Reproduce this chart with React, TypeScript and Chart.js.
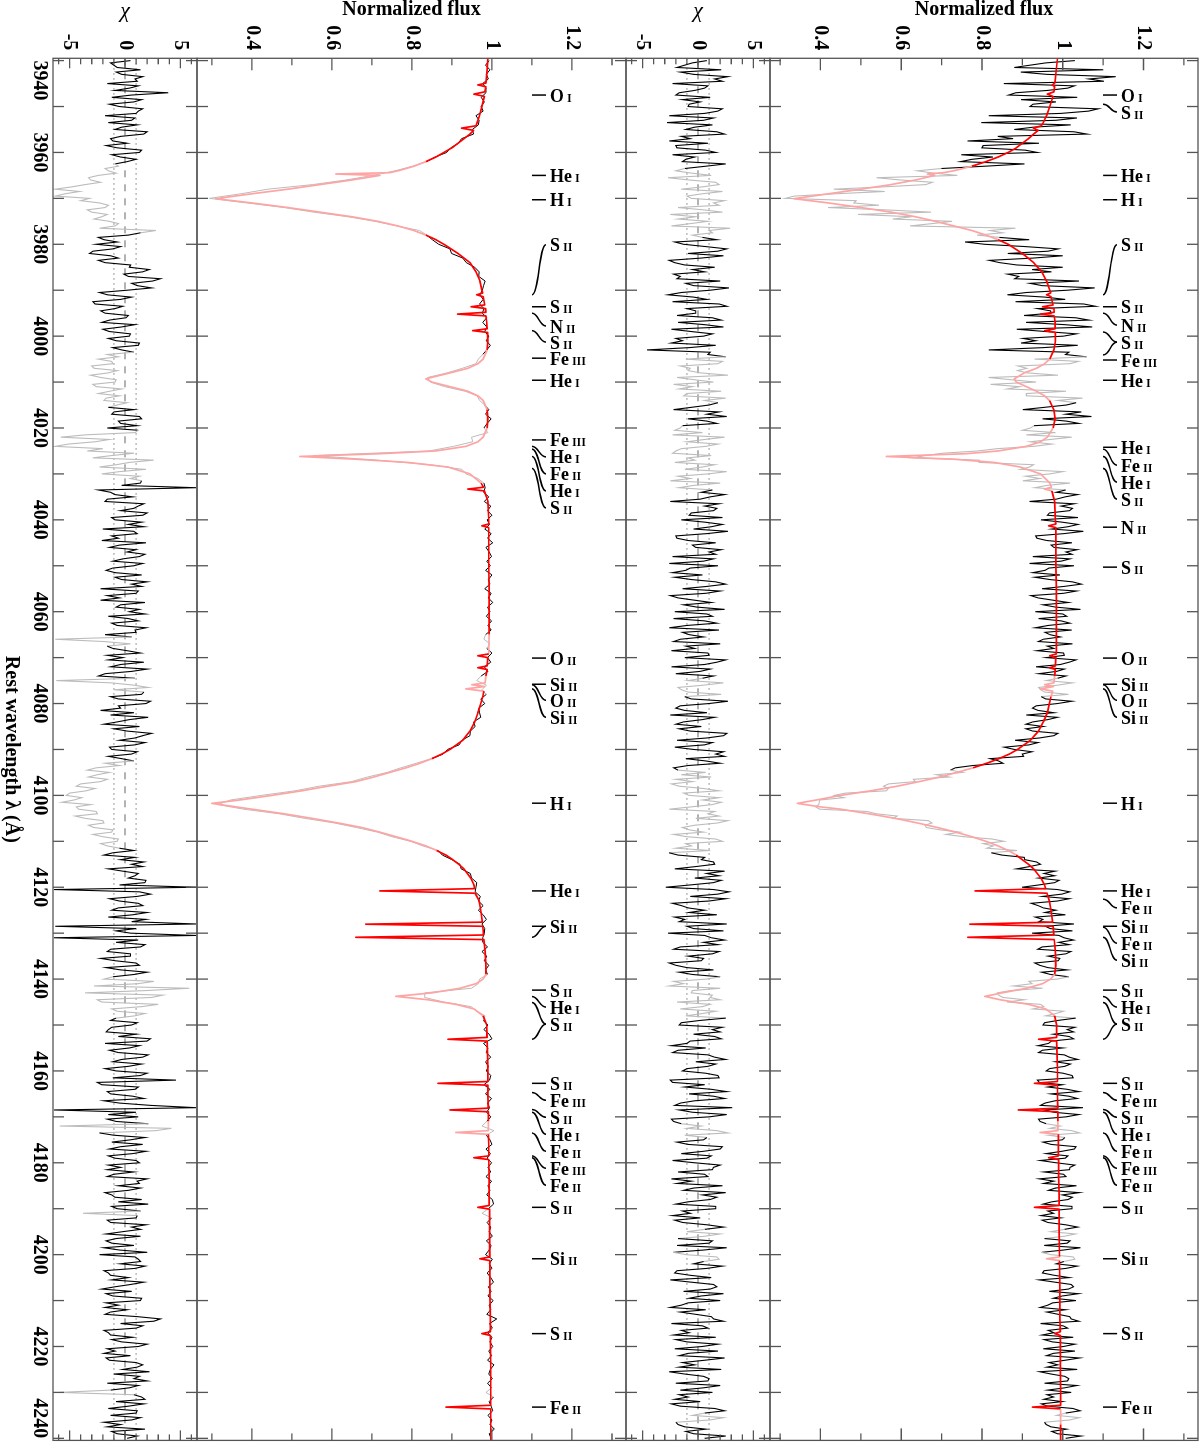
import React, { useEffect, useRef } from 'react';
import { Chart, registerables } from 'chart.js';
Chart.register(...registerables);

// ---------- data ----------
const WAVE_START = 3940;
const FINE_STEP = 0.5;   // sampling of OBS_TOP, CHI_TOP, CHI_BOT
const COARSE_STEP = 1;   // sampling of OBS_BOT

// observed spectrum, upper star (right-hand flux panel)
const OBS_TOP = [
  1.030, .958, .919, .880, 1.100, .896, .961, 1.131, 1.065, 1.102, .854, 1.029, 1.012, .962, .884, .866, 1.036, .897, .983, .926,
  .919, 1.088, 1.064, .995, .817, 1.035, .983, .798, 1.020, .927, .880, 1.028, 1.060, .839, .877, .764, .941, .803, .800, .907,
  .937, .749, .827, .775, .747, .905, .807, .699, .640, .680, .739, .539, .599, .677, .661, .555, .433, .559, .438, .335,
  .313, .488, .483, .545, .419, .560, .674, .493, .626, .579, .726, .676, .622, .883, .820, .851, .788, .843, .917, .758,
  .807, .907, .989, .964, .864, 1.000, .927, .818, .844, .886, 1.000, .924, .972, .864, .891, .881, 1.040, .919, .949, 1.079,
  1.012, .910, .863, .956, 1.006, .883, 1.052, 1.081, .938, .970, .971, .904, 1.032, 1.065, .909, 1.005, 1.073, .886, .958, 1.034,
  1.002, .902, .933, .897, 1.037, .952, .817, 1.015, 1.007, 1.059, .930, 1.039, 1.018, .889, .911, .888, .912, .988, .816, .873,
  .934, .821, .893, .863, 1.008, .910, .910, 1.049, .988, 1.033, 1.009, .955, .901, 1.046, 1.008, 1.071, .950, 1.009, 1.040, .929,
  .920, .900, .982, .910, 1.022, .969, .920, .973, .928, .838, .790, .702, .660, .628, .793, .793, .928, .918, .895, 1.000,
  .968, .908, .943, .901, 1.018, .961, .931, 1.007, .984, 1.037, 1.006, .984, .918, 1.028, .996, 1.024, 1.017, .967, .962, 1.038,
  .946, .998, 1.038, 1.013, .973, 1.051, 1.003, .933, .936, .960, 1.023, .971, .978, 1.036, 1.008, 1.023, .926, 1.018, .996, .918,
  1.028, .966, .956, .926, .993, .931, .968, 1.024, 1.046, 1.003, .949, 1.034, 1.002, .921, .939, .976, 1.014, .951, .982, 1.044,
  .932, 1.000, 1.010, .940, .996, 1.018, .964, .932, 1.022, .956, .968, .994, .952, .940, 1.024, .962, .978, .936, 1.002, 1.004,
  .959, 1.033, 1.016, .994, .934, 1.004, .985, .941, 1.008, .987, .960, 1.024, .987, .940, .945, .955, 1.014, .947, .958, 1.023,
  .987, .934, .925, .939, .978, .910, .987, .963, .926, .909, .952, .909, .926, .988, .978, .942, .882, .939, .917, .855,
  .880, .924, .900, .903, .820, .841, .852, .777, .734, .722, .752, .687, .719, .630, .635, .569, .556, .568, .563, .462,
  .434, .458, .398, .397, .396, .388, .398, .515, .538, .590, .581, .667, .676, .659, .662, .696, .745, .711, .755, .825,
  .854, .803, .828, .812, .887, .823, .849, .905, .906, .935, .945, .918, .886, .981, .954, .980, .940, .991, .980, .941,
  .899, .987, 1.017, .998, .950, 1.016, .987, .922, .939, .952, .983, .956, 1.007, .932, .951, .941, 1.028, .957, .969, 1.024,
  .924, .991, 1.003, 1.027, .990, 1.016, .949, .938, 1.020, 1.008, .964, .993, .989, .931, .943, .963, 1.011, .948, .970, 1.015,
  .986, .916, .924, .878, .950, .870, .838, .841, .852, .905, .862, .945, .953, .926, 1.002, .983, .958, 1.032, .988, .955,
  .951, 1.030, 1.011, 1.027, .977, 1.016, 1.027, .972, .965, .939, 1.000, .950, .940, 1.004, 1.016, 1.037, .982, 1.019, 1.005, .967,
  .959, 1.001, 1.023, 1.026, .937, .942, .999, .963, 1.011, 1.040, .971, 1.015, 1.036, .981, .956, .945, 1.050, .954, .978, 1.040,
  1.008, .940, .944, .959, .994, .968, 1.022, 1.042, .965, 1.005, .999, .951, .971, 1.033, 1.029, .998, .959, 1.013, 1.006, .944,
  .984, 1.030, 1.018, 1.017, .954, 1.002, 1.008, .942, .978, .953, 1.034, .982, .965, 1.041, .999, 1.024, 1.013, .973, .951, 1.023,
  1.023, .963, .977, .946, .995, .949, .963, 1.007, 1.037, 1.004, .971, 1.031, 1.004, .955, 1.018, 1.011, .954, 1.044, 1.002, .948,
  .970, 1.026, 1.030, 1.003, .984, 1.036, 1.008, .954, .950, .979, 1.016, .942, .981, 1.021, 1.027, 1.014, .967, 1.039, .999, .977,
  1.033, .975, .963, .944, 1.007, .961, .989, 1.017, 1.021, 1.040, .945, 1.001, 1.012, .964, .978, .949, 1.026, .954, .974, 1.030,
  1.002, .952, 1.030, .977, .960, 1.042, 1.006, .966, .988, .961, 1.036, .943, .971, 1.005, 1.015, 1.012, .955, 1.035, 1.005, .963,
  1.021, .961, .977, .953, .999, .947, .963, 1.025, 1.043, 1.007, .985, 1.041, 1.017, .955, .959, .971, 1.009, .973, .987, 1.045,
  1.007,
];

// residuals, upper star
const CHI_TOP = [
  0.8, -0.5, -1.2, -1.9, 2.1, -1.6, -0.4, 2.7, 1.5, 2.2, -2.3, 0.9, 0.6, -0.3, -1.7, -2.0, 1.1, -1.4, 0.2, -0.8,
  -0.9, 2.2, 1.8, 0.6, -2.6, 1.4, 0.5, -2.8, 1.3, -0.3, -1.1, 1.7, 2.4, -1.5, -0.7, -2.6, 0.9, -2.0, -1.9, 0.7,
  1.6, -2.3, -0.3, -1.1, -1.4, 2.5, 0.7, -1.2, -2.0, -0.6, 1.2, -2.7, -0.8, 1.6, 1.9, 0.4, -1.5, 2.2, 0.4, -1.0,
  -0.6, 2.4, 1.4, 1.9, -1.8, 0.5, 2.2, -2.5, -0.2, -1.8, 0.9, -0.7, -2.4, 2.9, 1.0, 1.3, -0.5, 0.4, 1.7, -2.1,
  -1.3, 0.7, 2.6, 1.8, -0.9, 2.3, 0.3, -2.6, -2.1, -1.2, 1.5, -0.5, 0.6, -2.2, -1.6, -1.9, 2.0, -1.1, -0.4, 2.8,
  1.1, -1.5, -2.7, -0.4, 0.8, -2.3, 1.9, 2.6, -1.0, -0.2, -0.2, -1.9, 1.3, 2.1, -1.8, 0.6, 2.3, -2.4, -0.6, 1.3,
  0.5, -2.0, -1.4, -2.4, 1.6, -0.8, -4.6, 1.1, 0.9, 2.5, -1.1, 2.2, 1.8, -1.6, -0.7, -0.9, 0.2, 2.7, -1.9, -0.3,
  1.4, -2.2, -0.5, -1.7, 2.1, -1.0, -1.3, 2.5, 0.6, 1.8, 1.0, -0.6, -2.2, 1.9, 0.8, 2.6, -0.9, 0.8, 1.7, -1.4,
  -1.6, -2.1, 0.4, -2.3, 2.4, 0.6, -1.0, 1.8, 0.7, -1.5, -2.0, -2.3, 1.2, -0.9, -0.3, -2.1, 1.5, 0.4, -1.2, 2.6,
  0.9, -1.8, -0.7, -2.5, 2.0, -0.4, -1.7, 1.3, 0.3, 2.4, 1.1, 0.2, -2.5, 1.9, 0.6, 1.7, 1.4, -0.6, -0.8, 2.2,
  -1.5, 0.6, 2.2, 1.2, -0.4, 2.7, 0.8, -2.0, -1.9, -0.9, 1.6, -0.5, -0.2, 2.1, 1.0, 1.6, -2.3, 1.4, 0.5, -2.6,
  1.8, -0.7, -1.1, -2.3, 0.4, -2.1, -0.6, 1.6, 2.5, 0.8, -1.4, 2.0, 0.7, -2.5, -1.8, -0.3, 1.2, -1.3, -0.1, 2.4,
  -2.1, 0.8, 1.3, -2.2, 0.6, 1.7, -1.0, -2.6, 1.9, -1.4, -0.8, 0.5, -1.6, -2.2, 2.0, -1.1, -0.3, -2.4, 0.9, 1.0,
  -1.2, 2.5, 1.7, 0.6, -2.4, 1.1, 0.2, -2.0, 1.4, 0.4, -0.9, 2.3, 0.5, -1.8, -1.5, -0.9, 2.1, -1.2, -0.6, 2.7,
  1.0, -1.6, -2.0, -1.2, 0.8, -2.5, 1.5, 0.4, -1.3, -2.0, 0.3, -1.7, -0.7, 2.6, 2.3, 0.8, -1.9, 1.3, 0.6, -2.1,
  -0.4, 2.3, 1.6, 2.4, -1.1, 0.7, 2.0, -0.9, -2.2, -1.8, 0.7, -1.5, 1.2, -2.0, -0.5, -2.4, -1.7, 0.5, 1.9, -1.3,
  -0.8, 1.9, 0.4, 2.1, 1.3, -0.6, -2.6, 1.5, 0.9, 1.9, -0.2, 2.7, 1.8, -0.3, -1.4, -0.8, 0.5, -2.2, -1.0, 1.6,
  2.2, -1.1, -0.6, -2.0, 1.1, -2.6, -1.8, 0.6, 0.3, 1.4, 1.5, -0.2, -2.1, 2.4, 0.8, 1.9, -0.3, 2.1, 1.4, -0.7,
  -2.9, 1.4, 2.8, 1.8, -0.7, 2.5, 1.0, -2.3, -1.5, -0.9, 0.6, -0.8, 1.7, -2.1, -1.2, -1.7, 2.6, -1.0, -0.4, 2.3,
  -2.7, 0.6, 1.2, 2.4, 0.5, 1.8, -1.6, -2.2, 1.9, 1.3, -0.9, 0.5, 0.3, -2.6, -2.0, -1.0, 1.4, -1.7, -0.5, 2.0,
  0.8, -2.2, -1.3, -2.6, 2.0, -0.5, -0.6, 1.3, 1.1, 2.0, -1.9, 1.1, 0.4, -1.6, 1.6, 0.4, -1.1, 2.5, 0.2, -1.5,
  -1.7, 2.2, 1.3, 2.0, -0.4, 1.5, 2.1, -0.7, -1.0, -2.4, 0.7, -1.8, -2.3, 0.9, 1.5, 2.5, -0.2, 1.6, 0.9, -1.0,
  -1.4, 0.7, 1.8, 1.9, -2.5, -2.3, 0.6, -1.2, 1.2, 2.6, -0.8, 1.4, 2.4, -0.3, -1.6, -2.1, 3.1, -1.7, -0.5, 2.6,
  1.0, -2.4, -2.2, -1.5, 0.3, -1.0, 1.7, 2.7, -1.2, 0.8, 0.5, -1.9, -0.9, 2.2, 2.0, 0.5, -1.5, 1.2, 0.8, -2.3,
  -0.3, 2.0, 1.4, 1.3, -1.8, 0.6, 0.9, -2.4, -0.6, -1.9, 2.2, -0.4, -1.3, 2.5, 0.4, 1.7, 1.1, -0.9, -2.0, 1.6,
  1.6, -1.4, -0.7, -2.3, 0.2, -2.1, -1.4, 0.8, 2.3, 0.6, -1.0, 2.0, 0.6, -1.8, 1.3, 1.0, -1.9, 2.6, 0.5, -2.2,
  -1.1, 1.7, 1.9, 0.5, -0.4, 2.2, 0.8, -1.9, -2.1, -0.7, 1.2, -2.5, -0.6, 1.4, 1.7, 1.1, -1.3, 2.3, 0.3, -0.8,
  2.0, -0.9, -1.5, -2.5, 0.7, -1.6, -0.2, 1.2, 1.4, 2.3, -2.4, 0.4, 0.9, -1.5, -0.8, -2.2, 1.6, -2.0, -1.0, 1.8,
  0.4, -2.1, 1.8, -0.9, -1.7, 2.4, 0.6, -1.4, -0.3, -1.7, 2.1, -2.6, -1.2, 0.5, 1.0, 0.9, -2.0, 2.0, 0.5, -1.6,
  1.3, -1.7, -0.9, -2.1, 0.2, -2.4, -1.6, 1.5, 2.4, 0.6, -0.5, 2.3, 1.1, -2.0, -1.8, -1.2, 0.7, -1.1, -0.4, 2.5,
  0.6,
];

// observed spectrum, lower star (left-hand flux panel)
const OBS_BOT = [
  .993, .984, .995, .986, .991, .977, .985, .985, .973, .981,
  .973, .978, .960, .968, .966, .951, .954, .924, .916, .897,
  .887, .858, .836, .802, .758, .703, .635, .552, .440, .373,
  .294, .389, .481, .555, .640, .708, .761, .819, .837, .851,
  .867, .895, .899, .927, .936, .957, .968, .967, .983, .979,
  .976, .970, .978, .969, .980, .976, .987, .977, .987, .982,
  .992, .986, .996, .987, .977, .966, .960, .926, .888, .839,
  .846, .882, .933, .963, .969, .982, .992, .984, .998, .988,
  .980, .990, .949, .952, .904, .843, .554, .713, .846, .925,
  .935, .965, .980, .983, .979, .992, .981, .997, .989, 1.000,
  .988, .994, .982, .998, .989, 1.002, .985, .993, .999, .987,
  .996, .984, 1.000, .991, .995, .982, .998, .991, 1.002, .989,
  .995, .986, .999, .990, .998, .984, .980, .995, .987, 1.000,
  .989, .997, .981, .990, .973, .962, .986, .975, .986, .972,
  .982, .967, .969, .972, .954, .958, .946, .945, .925, .918,
  .889, .878, .849, .811, .772, .738, .689, .649, .568, .508,
  .424, .347, .315, .379, .468, .532, .606, .661, .714, .750,
  .797, .827, .866, .876, .900, .920, .923, .946, .949, .962,
  .960, .958, .971, .966, .978, .966, .978, .986, .975, .982,
  .981, .977, .977, .989, .975, .987, .981, .992, .984, .989,
  .969, .966, .949, .832, .832, .880, .948, .962, .983, .978,
  .990, .980, .993, 1.000, .979, .990, .986, .997, .984, .991,
  .986, .997, .994, .980, .995, .984, .999, .989, .994, .987,
  .997, .987, .975, 1.005, .986, .995, 1.000, .985, .996, .988,
  .999, .990, .997, .985, .999, .990, .995, .987, 1.001, 1.004,
  .991, .975, .999, .988, .997, .993, 1.001, .986, .998, .993,
  .984, 1.001, .993, 1.000, .988, .997, 1.004, .991, .998, .990,
  1.003, .993, .997, .987, 1.012, .994, 1.001, .989, 1.000, .995,
  1.002, .992, .999, .989, 1.005, .996, .992, 1.001, .989, .999,
  .985, 1.004, .993, .998, 1.002, .990, 1.000, .995, 1.006, .993,
  .998,
];

// residuals, lower star
const CHI_BOT = [
  0.5, -1.3, -1.0, -0.7, 1.4, -0.8, -0.3, 1.6, 0.9, 1.1, -1.6, 1.2, 0.4, -0.9, 3.9, 0.6, -1.2, 1.5, 0.8, -1.4,
  -0.5, 1.6, 1.2, 1.0, -1.8, 0.9, 0.6, -1.5, 1.1, -0.3, -0.9, 2.0, 1.7, -0.4, -1.3, -1.1, 0.2, -1.7, -0.7, 1.5,
  1.3, -1.2, -0.4, 1.0, 0.2, -0.9, -0.6, -1.8, -1.5, -0.8, -2.4, -3.3, -3.1, -2.2, -3.6, -4.8, -6.3, -4.1, -5.4, -6.3,
  -3.2, -4.0, -2.3, -1.5, -1.8, -3.4, -3.0, -1.6, -2.1, -2.8, -1.4, -0.6, -0.9, -2.3, 2.8, 1.4, 0.3, -2.4, -1.9, -0.7,
  -2.6, -0.4, -1.1, -2.9, -3.2, -1.3, -0.6, -2.4, -1.8, 0.5, 0.4, 2.2, 1.6, -0.1, 0.3, 3.2, 2.5, 0.6, 1.1, 2.4,
  0.2, -2.3, -1.6, 0.6, -0.4, -2.9, -2.7, -0.2, -0.9, -2.2, -1.8, 0.3, 0.1, -1.4, -2.1, 0.9, -0.3, -2.0, -1.4, 0.5,
  0.4, -1.5, -0.8, 1.3, 1.2, -1.1, -0.3, 0.8, -1.6, -0.6, -2.4, -1.2, -1.1, -3.0, -2.8, -0.7, -1.5, -3.1, -2.2, -0.8,
  -0.9, -2.9, -2.6, -0.3, -1.4, -2.4, -0.5, -1.7, -1.9, 0.2, -0.7, -1.5, 0.8, -1.0, -1.2, 1.3, 1.5, -0.6, -0.4, 1.1,
  -1.6, 1.2, 0.9, -3.6, -5.8, -1.4, -2.7, -5.1, -6.3, -2.0, -3.4, 0.8, -1.2, -2.9, 2.6, 0.4, -0.8, -2.3, 1.9, -0.5,
  -2.1, 1.3, 0.5, 1.5, 1.4, -0.3, 6.4, -2.4, -1.3, -0.9, 0.7, -1.6, -1.8, 1.7, 1.2, 0.8, -0.4, 2.0, 1.6, -1.2,
  -0.9, 1.5, 0.3, 1.7, -2.0, 0.8, 1.1, -1.2, -0.6, -2.1, 1.9, -0.5, -1.4, 1.0, 0.2, 1.8, 1.3, -0.2, -1.1, 1.6,
  0.8, -1.1, -1.7, -0.9, 1.5, -0.9, -0.3, 2.0, 0.6, 1.5, -2.2, 1.2, 1.0, -1.6, -0.5, -2.2, 1.8, -0.4, -0.8, 1.3,
  0.4, 1.8, -1.5, 0.3, 1.2, -1.2, -0.7, 1.9, 0.9, 1.0, -1.8, 0.6, -6.3, -1.9, 0.5, -1.6, -1.1, 0.2, 1.4, -1.6,
  -0.2, -1.5, 1.7, -0.4, -1.3, 2.0, 0.6, -1.8, -2.4, 0.9, -6.2, -1.2, 0.8, 2.1, -1.0, 1.7, 1.5, -1.3, -0.6, 2.3,
  1.9, -0.6, -0.4, -2.2, 0.8, -1.3, 2.1, 0.4, -0.7, -1.9, 1.3, -1.0, 0.2, 2.4, 1.6, 0.9, -0.5, 1.8, 0.9, -1.4,
  -1.2, 1.1, 0.6, -1.5, -0.3, 0.8, -1.8, -0.5, -2.6, -3.4, -1.4, -2.5, -3.3, -1.6, -2.2, -4.0, -4.4, -2.7, -3.5, -5.0,
  -5.3, -3.9, -4.6, -5.7, -3.1, -4.4, -4.2, -2.6, -2.5, -4.5, -3.6, -2.0, -1.9, -3.3, -2.8, -1.1, -1.2, -2.9, -2.0, -0.6,
  -0.7, -2.2, -1.6, -0.5, 0.8, -1.1, -1.9, 0.9, -0.4, 1.7, 0.6, 1.6, -1.5, -0.2, 1.2, 0.9, 0.3, 1.9, 1.8, -0.5,
  6.4, -6.4, 1.3, 2.3, 1.1, -1.4, -0.5, 1.2, 1.6, -0.6, -1.2, 2.0, 0.7, -1.5, 1.9, 0.6, 6.4, -6.3, 1.0, -0.8,
  0.5, 6.4, -6.4, 1.2, -0.8, 1.8, 1.4, -1.3, -1.6, 0.5, 0.5, -2.2, -0.9, 1.0, 1.3, -1.7, -0.4, 2.0, 0.8, -1.1,
  -1.9, 2.6, 1.2, -2.8, 5.8, 1.9, -3.6, 3.4, 2.4, -2.5, -2.1, 3.0, 1.5, -1.2, -0.7, 1.8, 0.9, -0.8, -1.3, 1.1,
  0.6, -1.2, -1.5, -1.7, 1.0, -0.6, 2.3, 2.0, -1.8, 1.3, 0.4, -1.4, -0.6, 2.1, 1.6, -0.3, -1.1, 1.5, 0.3, -1.8,
  -0.8, 2.0, 1.4, -1.1, 4.6, -2.5, -2.1, 1.2, 0.9, -1.6, -1.3, 0.7, 1.7, -1.9, -0.5, 2.3, 6.4, -6.4, 1.0, -1.5,
  1.2, -1.6, -0.8, 2.1, -5.9, 4.2, 2.8, -2.3, -1.0, 1.8, 0.5, -1.2, 1.6, -0.4, -1.4, 1.9, 0.7, -1.5, -0.9, 1.0,
  1.3, -1.5, -0.4, -1.6, 0.8, -1.0, -1.6, 2.0, 1.1, 1.3, -0.6, 1.4, 0.3, -1.8, -1.2, -0.9, 1.5, -0.6, 2.1, -1.2,
  -0.7, 1.4, -3.8, 1.1, 1.0, -1.6, -1.3, 1.9, 0.6, 1.4, -0.2, -1.7, 1.4, -0.8, -1.7, -1.2, 0.8, -1.9, -0.5, 2.0,
  -2.3, 0.9, 1.2, 1.4, -0.4, 1.8, 0.9, -1.9, -1.5, -1.3, 0.3, -1.2, 1.7, 0.5, -0.9, -2.1, 0.6, -1.7, -1.1, 1.5,
  1.4, -1.7, -0.6, -1.8, 0.2, -1.3, -1.8, 1.1, 3.2, 2.6, -0.4, 1.6, 1.0, -1.9, -1.5, -1.3, 0.7, -1.2, -0.3, 2.0,
  1.2, -1.6, -0.9, -1.9, 0.5, -1.7, -1.4, 1.0, 1.6, 1.1, -0.2, 2.2, -1.0, 1.3, 0.8, 2.0, -1.6, 1.2, 0.4, -1.3,
  -5.9, 0.8, 1.5, 1.8, -0.8, 1.7, 0.3, -1.5, 1.1, 1.0, -1.3, 1.4, 0.6, -1.9, -0.4, -1.6, 1.8, -1.2, -0.7, 1.1,
  0.2,
];

// model spectra (shared wavelength sampling)
const MODEL_WAVE = [
  3939.5, 3942, 3944.5, 3944.9, 3945.3, 3945.7, 3946.8, 3947.3, 3947.8, 3950,
  3952, 3953.5, 3954.2, 3954.7, 3955.2, 3956, 3957, 3958, 3959, 3960,
  3961, 3962, 3963, 3964, 3964.4, 3964.7, 3965, 3966, 3967, 3968,
  3969, 3970.07, 3971, 3972, 3973, 3974, 3975, 3976, 3977, 3978,
  3979, 3980, 3982, 3984, 3986, 3988, 3990, 3990.6, 3991, 3991.4,
  3993.2, 3993.6, 3994, 3994.8, 3995.2, 3995.6, 3997, 3998.4, 3998.8, 3999.2,
  4001, 4003, 4005, 4006, 4007, 4008, 4009.3, 4010, 4011, 4012,
  4013, 4014, 4016, 4018, 4020, 4022, 4023, 4024, 4025, 4025.6,
  4026.2, 4026.8, 4027.5, 4028.5, 4030, 4032, 4032.9, 4033.3, 4033.7, 4036,
  4040, 4040.9, 4041.3, 4041.7, 4046, 4050, 4055, 4060, 4065, 4069.2,
  4069.6, 4070, 4071.8, 4072.2, 4072.6, 4074, 4075.5, 4075.9, 4076.3, 4076.8,
  4077.3, 4078.5, 4080, 4082, 4084, 4086, 4088, 4090, 4091, 4092,
  4093, 4094, 4095, 4096, 4097, 4098, 4099, 4100, 4101, 4101.74,
  4102.5, 4103, 4104, 4105, 4106, 4107, 4108, 4109, 4110, 4111,
  4112, 4113, 4114, 4115, 4116, 4118, 4119.5, 4120.3, 4120.8, 4121.3,
  4123, 4125, 4127.6, 4128.05, 4128.5, 4130.4, 4130.9, 4131.4, 4134, 4137,
  4139, 4140, 4141, 4142, 4143, 4143.76, 4144.5, 4145.5, 4146.5, 4148,
  4150, 4152.7, 4153.1, 4153.5, 4157, 4160, 4162.3, 4162.7, 4163.1, 4165.5,
  4168.1, 4168.5, 4168.9, 4171, 4173, 4173.4, 4173.8, 4176, 4178.5, 4178.9,
  4179.3, 4183, 4187, 4189.3, 4189.7, 4190.1, 4195, 4200.5, 4200.9, 4201.3,
  4208, 4214, 4216.8, 4217.2, 4217.6, 4225, 4230, 4232.8, 4233.2, 4233.6,
  4237, 4240.5,
];
const MODEL_BOT = [
  .990, .988, .9855, .985, .965, .985, .982, .955, .981, .975,
  .969, .963, .960, .924, .954, .945, .930, .915, .900, .880,
  .860, .835, .805, .765, .745, .610, .720, .650, .570, .490,
  .400, .310, .400, .490, .570, .650, .715, .765, .805, .835,
  .860, .880, .915, .945, .960, .970, .975, .977, .962, .978,
  .982, .948, .984, .985, .914, .985, .987, .988, .952, .989,
  .990, .988, .978, .965, .940, .895, .835, .850, .895, .940,
  .965, .978, .988, .990, .988, .978, .965, .935, .860, .720,
  .520, .660, .790, .890, .945, .973, .979, .940, .981, .990,
  .992, .992, .975, .992, .992, .992, .993, .993, .993, .992,
  .965, .990, .988, .965, .988, .985, .983, .950, .982, .935,
  .980, .977, .972, .965, .957, .945, .927, .895, .875, .850,
  .820, .785, .745, .705, .660, .590, .525, .450, .370, .300,
  .360, .400, .480, .550, .615, .675, .720, .760, .800, .835,
  .862, .885, .902, .917, .930, .947, .955, .957, .720, .958,
  .968, .972, .976, .685, .977, .979, .660, .980, .983, .985,
  .985, .978, .960, .920, .850, .760, .840, .910, .955, .978,
  .987, .988, .890, .988, .989, .990, .990, .865, .990, .990,
  .991, .895, .991, .991, .991, .910, .991, .992, .992, .955,
  .992, .993, .993, .993, .965, .994, .994, .995, .970, .995,
  .995, .996, .996, .975, .996, .997, .997, .997, .885, .997,
  .997, .997,
];
const MODEL_TOP = [
  .987, .984, .981, .980, .974, .980, .978, .962, .976, .968,
  .960, .952, .947, .927, .939, .928, .915, .900, .885, .865,
  .840, .810, .775, .730, .705, .665, .683, .635, .575, .500,
  .420, .334, .420, .500, .575, .635, .685, .730, .775, .810,
  .840, .865, .900, .928, .948, .960, .968, .970, .960, .971,
  .976, .950, .978, .979, .945, .979, .981, .981, .955, .982,
  .982, .978, .968, .955, .935, .905, .880, .885, .910, .935,
  .955, .967, .978, .981, .976, .962, .945, .910, .840, .760,
  .563, .730, .830, .895, .945, .968, .972, .955, .973, .980,
  .982, .983, .965, .983, .983, .983, .984, .984, .984, .984,
  .968, .983, .982, .968, .982, .980, .978, .955, .977, .945,
  .975, .971, .967, .962, .952, .940, .920, .888, .868, .842,
  .812, .778, .738, .695, .645, .590, .525, .450, .390, .343,
  .400, .450, .520, .585, .640, .690, .735, .775, .810, .840,
  .865, .885, .900, .915, .928, .946, .955, .958, .783, .961,
  .967, .971, .975, .770, .976, .978, .765, .979, .982, .983,
  .980, .970, .950, .910, .850, .807, .845, .915, .958, .980,
  .985, .985, .940, .985, .986, .987, .987, .930, .987, .987,
  .988, .890, .988, .988, .988, .944, .989, .989, .989, .965,
  .990, .990, .991, .991, .930, .991, .991, .992, .960, .992,
  .993, .993, .994, .980, .994, .994, .995, .995, .925, .995,
  .995, .995,
];

// wavelength windows excluded from the fit (drawn grey / pink)
const MASK_TOP = [
  [3963.4, 3978.6], [4004.4, 4014.6], [4019.4, 4033.6], [4074.4, 4078.6],
  [4094.4, 4112.6], [4139.4, 4148.6], [4171.4, 4174.6], [4194.4, 4196.6],
  [4199.4, 4201.6], [4234.4, 4236.6],
];
const MASK_BOT = [
  [3962.4, 3977.6], [4003.6, 4015.4], [4020.4, 4031.6], [4065.4, 4067.6],
  [4074.4, 4077.6], [4092.4, 4111.6], [4139.4, 4148.6], [4171.4, 4173.6],
  [4190.4, 4191.6], [4229.4, 4230.6],
];

// line identifications: [element, ion stage, line wavelength, label wavelength]
const LINES_TOP = [
  ['O', 'I', 3947.3, 3947.5], ['S', 'II', 3949.5, 3951.2], ['He', 'I', 3964.7, 3965.0],
  ['H', 'I', 3970.1, 3970.3], ['S', 'II', 3991.0, 3980.1], ['S', 'II', 3993.5, 3993.6],
  ['N', 'II', 3995.0, 3997.6], ['S', 'II', 3999.1, 4001.3], ['', '', 4004.1, 4001.3],
  ['Fe', 'III', 4005.0, 4005.2], ['He', 'I', 4009.3, 4009.6], ['He', 'I', 4024.0, 4024.2],
  ['Fe', 'II', 4024.6, 4028.1], ['He', 'I', 4026.2, 4031.8], ['S', 'II', 4028.8, 4035.5],
  ['N', 'II', 4041.3, 4041.6], ['S', 'II', 4050.3, 4050.3], ['O', 'II', 4069.8, 4070.1],
  ['Si', 'II', 4075.5, 4075.8], ['O', 'II', 4075.9, 4079.3], ['Si', 'II', 4076.8, 4083.0],
  ['H', 'I', 4101.7, 4101.7], ['He', 'I', 4120.8, 4120.8], ['Fe', 'II', 4122.6, 4124.5],
  ['Si', 'II', 4128.05, 4128.5], ['Fe', 'II', 4128.7, 4132.2], ['Si', 'II', 4130.9, 4135.9],
  ['S', 'II', 4142.3, 4142.4], ['He', 'I', 4143.8, 4146.1], ['S', 'II', 4145.1, 4149.8],
  ['', '', 4153.1, 4149.8], ['S', 'II', 4162.7, 4162.7], ['Fe', 'III', 4164.7, 4166.4],
  ['S', 'II', 4168.4, 4170.1], ['He', 'I', 4169.0, 4173.8], ['Fe', 'II', 4173.5, 4177.5],
  ['Fe', 'III', 4178.5, 4181.2], ['Fe', 'II', 4178.9, 4184.9], ['S', 'II', 4189.7, 4189.7],
  ['Si', 'II', 4200.9, 4200.9], ['S', 'II', 4217.2, 4217.2], ['Fe', 'II', 4233.2, 4233.2],
];
const LINES_BOT = [
  ['O', 'I', 3947.3, 3947.5], ['He', 'I', 3964.7, 3965.0], ['H', 'I', 3970.1, 3970.3],
  ['S', 'II', 3991.0, 3980.1], ['S', 'II', 3993.5, 3993.6], ['N', 'II', 3995.0, 3997.8],
  ['S', 'II', 3998.8, 4001.3], ['Fe', 'III', 4004.6, 4004.8], ['He', 'I', 4009.3, 4009.6],
  ['Fe', 'III', 4022.6, 4022.6], ['He', 'I', 4024.0, 4026.3], ['Fe', 'II', 4024.6, 4030.0],
  ['He', 'I', 4026.2, 4033.7], ['S', 'II', 4028.8, 4037.4], ['O', 'II', 4069.8, 4070.1],
  ['Si', 'II', 4075.5, 4075.8], ['O', 'II', 4075.9, 4079.3], ['Si', 'II', 4076.8, 4083.0],
  ['H', 'I', 4101.7, 4101.7], ['He', 'I', 4120.8, 4120.8], ['Si', 'II', 4128.05, 4128.5],
  ['', '', 4130.9, 4128.5], ['S', 'II', 4142.3, 4142.4], ['He', 'I', 4143.8, 4146.1],
  ['S', 'II', 4145.1, 4149.8], ['', '', 4153.1, 4149.8], ['S', 'II', 4162.7, 4162.7],
  ['Fe', 'III', 4164.7, 4166.4], ['S', 'II', 4168.4, 4170.1], ['He', 'I', 4169.0, 4173.8],
  ['Fe', 'II', 4173.5, 4177.5], ['Fe', 'III', 4178.5, 4181.2], ['Fe', 'II', 4178.9, 4184.9],
  ['S', 'II', 4189.7, 4189.7], ['Si', 'II', 4200.9, 4200.9], ['S', 'II', 4217.2, 4217.2],
  ['Fe', 'II', 4233.2, 4233.2],
];

// ticks
const WAVE_LABEL_TICKS = [3940, 3960, 3980, 4000, 4020, 4040, 4060, 4080, 4100, 4120, 4140, 4160, 4180, 4200, 4220, 4240];
const WAVE_MARK_TICKS = [
  3940, 3950, 3960, 3970, 3980, 3990, 4000, 4010, 4020, 4030, 4040, 4050, 4060, 4070, 4080, 4090,
  4100, 4110, 4120, 4130, 4140, 4150, 4160, 4170, 4180, 4190, 4200, 4210, 4220, 4230, 4240,
];
const FLUX_LABEL_TICKS = [0.4, 0.6, 0.8, 1, 1.2];
const FLUX_MARK_TICKS = [0.3, 0.4, 0.5, 0.6, 0.7, 0.8, 0.9, 1.0, 1.1, 1.2, 1.3];
const CHI_LABEL_TICKS = [-5, 0, 5];
const CHI_MARK_TICKS = [-6, -5, -4, -3, -2, -1, 0, 1, 2, 3, 4, 5, 6];
const CHI_GUIDES = [-1, 0, 1];

// ---------- rendering ----------
const FAMILY = '"Liberation Serif", "Times New Roman", serif';
const BLACK = '#000000';
const GREY = '#bcbcbc';
const RED = '#ff0000';
const PINK = '#ffa3a3';
const FRAME = '#555555';

const inMask = (w: number, mask: number[][]) => mask.some(([a, b]) => w >= a && w <= b);

function lineSet(xs: number[], ys: number[], axis: string, mask: number[][], on: string, off: string, width: number, order: number, join: string) {
  return {
    data: xs.map((x, i) => ({ x, y: ys[i] })),
    xAxisID: 'x',
    yAxisID: axis,
    borderColor: on,
    borderWidth: width,
    borderJoinStyle: join,
    pointRadius: 0,
    fill: false,
    tension: 0,
    order,
    segment: {
      borderColor: (c: any) => (inMask((xs[c.p0DataIndex] + xs[c.p1DataIndex]) / 2, mask) ? off : on),
    },
  };
}

const tickFont = { family: FAMILY, size: 20, weight: 'bold', lineHeight: 1 };

function yAxis(min: number, max: number, weight: number, labels: number[], title: string, titleFont: any) {
  return {
    type: 'linear',
    position: 'left',
    stack: 'panels',
    stackWeight: weight,
    min,
    max,
    offset: false,
    grid: { display: false, drawTicks: false },
    border: { display: false },
    afterBuildTicks: (s: any) => { s.ticks = labels.map((v) => ({ value: v })); },
    afterFit: (s: any) => {
      s.width = 58.3;
      s.paddingTop = 0; s.paddingBottom = 0; s.paddingLeft = 0; s.paddingRight = 0;
    },
    ticks: { autoSkip: false, padding: 8, color: BLACK, font: tickFont, callback: (v: any) => String(v) },
    title: { display: true, text: title, color: BLACK, font: titleFont, padding: { top: 0, bottom: 0 } },
  };
}

const framePlugin = {
  id: 'framePlugin',
  beforeDatasetsDraw(chart: any) {
    const { ctx, chartArea: ca } = chart;
    ctx.save();
    ctx.strokeStyle = '#666666';
    ctx.lineWidth = 1;
    for (const id of ['y1', 'y3']) {
      const s = chart.scales[id];
      for (const v of CHI_GUIDES) {
        const py = s.getPixelForValue(v);
        ctx.setLineDash(v === 0 ? [7, 7] : [1.3, 3.7]);
        ctx.beginPath();
        ctx.moveTo(ca.left, py);
        ctx.lineTo(ca.right, py);
        ctx.stroke();
      }
    }
    ctx.restore();
  },
  afterDatasetsDraw(chart: any) {
    const { ctx, chartArea: ca } = chart;
    const xs = chart.scales.x;
    ctx.save();
    ctx.strokeStyle = FRAME;
    ctx.lineWidth = 1.3;
    for (const id of ['y1', 'y2', 'y3', 'y4']) {
      const s = chart.scales[id];
      const isChi = id === 'y1' || id === 'y3';
      const marks = isChi ? CHI_MARK_TICKS : FLUX_MARK_TICKS;
      const majors = isChi ? CHI_LABEL_TICKS : FLUX_LABEL_TICKS;
      ctx.strokeRect(ca.left, s.top, ca.right - ca.left, s.bottom - s.top);
      ctx.beginPath();
      for (const v of marks) {
        const py = s.getPixelForValue(v);
        const major = majors.some((m) => Math.abs(m - v) < 1e-6);
        const len = isChi ? (major ? 10 : 6) : (major ? 12 : 7);
        ctx.moveTo(ca.left, py); ctx.lineTo(ca.left + len, py);
        ctx.moveTo(ca.right, py); ctx.lineTo(ca.right - len, py);
      }
      for (const w of WAVE_MARK_TICKS) {
        const px = xs.getPixelForValue(w);
        ctx.moveTo(px, s.top); ctx.lineTo(px, s.top + 11);
        ctx.moveTo(px, s.bottom); ctx.lineTo(px, s.bottom - 11);
      }
      ctx.stroke();
    }
    ctx.restore();
  },
  afterDraw(chart: any) {
    drawIds(chart, 'y2', LINES_BOT);
    drawIds(chart, 'y4', LINES_TOP);
  },
};

function drawIds(chart: any, axisId: string, list: any[]) {
  const { ctx } = chart;
  const xs = chart.scales.x;
  const s = chart.scales[axisId];
  const yA = s.getPixelForValue(1.1);
  const yB = yA - 14;
  ctx.save();
  ctx.strokeStyle = BLACK;
  ctx.fillStyle = BLACK;
  ctx.lineWidth = 1.5;
  for (const [el, st, lw, lab] of list) {
    const xl = xs.getPixelForValue(lw);
    const xt = xs.getPixelForValue(lab);
    ctx.beginPath();
    if (Math.abs(xl - xt) < 2.5) {
      ctx.moveTo(xt, yA);
      ctx.lineTo(xt, yB);
    } else {
      const ym = (yA + yB) / 2;
      ctx.moveTo(xl, yA);
      ctx.bezierCurveTo(xl, ym, xt, ym, xt, yB);
    }
    ctx.stroke();
    if (el) {
      ctx.save();
      ctx.translate(xt, yB - 4);
      ctx.rotate(-Math.PI / 2);
      ctx.textAlign = 'left';
      ctx.textBaseline = 'alphabetic';
      ctx.font = `bold 18px ${FAMILY}`;
      ctx.fillText(el, 0, 6.5);
      const w = ctx.measureText(el).width;
      ctx.font = `bold 12px ${FAMILY}`;
      ctx.fillText(st, w + 3, 6.5);
      ctx.restore();
    }
  }
  ctx.restore();
}

export default function App() {
  const ref = useRef<HTMLCanvasElement>(null);
  useEffect(() => {
    document.body.style.overflow = 'hidden';
    document.documentElement.style.overflow = 'hidden';
    const fine = OBS_TOP.map((_, i) => WAVE_START + i * FINE_STEP);
    const coarse = OBS_BOT.map((_, i) => WAVE_START + i * COARSE_STEP);
    const chart = new Chart(ref.current as HTMLCanvasElement, {
      type: 'line',
      data: {
        datasets: [
          lineSet(MODEL_WAVE, MODEL_TOP, 'y4', MASK_TOP, RED, PINK, 1.7, 0, 'round'),
          lineSet(fine, OBS_TOP, 'y4', MASK_TOP, BLACK, GREY, 1.1, 1, 'miter'),
          lineSet(fine, CHI_TOP, 'y3', MASK_TOP, BLACK, GREY, 1.1, 1, 'miter'),
          lineSet(MODEL_WAVE, MODEL_BOT, 'y2', MASK_BOT, RED, PINK, 1.7, 0, 'round'),
          lineSet(coarse, OBS_BOT, 'y2', MASK_BOT, BLACK, GREY, 1, 1, 'round'),
          lineSet(fine, CHI_BOT, 'y1', MASK_BOT, BLACK, GREY, 1.1, 1, 'miter'),
        ] as any,
      },
      options: {
        animation: false,
        responsive: false,
        devicePixelRatio: 1,
        events: [],
        layout: { padding: { left: 0, right: 2.6, top: 2, bottom: 0 }, autoPadding: false },
        plugins: { legend: { display: false }, tooltip: { enabled: false }, title: { display: false } },
        scales: {
          x: {
            type: 'linear',
            position: 'bottom',
            min: 3939.5,
            max: 4240.45,
            grid: { display: false, drawTicks: false },
            border: { display: false },
            afterBuildTicks: (s: any) => { s.ticks = WAVE_LABEL_TICKS.map((v) => ({ value: v })); },
            afterFit: (s: any) => { s.height = 53; s.paddingLeft = 0; s.paddingRight = 0; },
            ticks: {
              autoSkip: false, maxRotation: 0, minRotation: 0, align: 'inner', padding: 4,
              color: BLACK, font: tickFont, callback: (v: any) => String(v),
            },
            title: {
              display: true, text: 'Rest wavelength λ (Å)', color: BLACK,
              font: { family: FAMILY, size: 20, weight: 'bold', lineHeight: 1 },
              padding: { top: 0, bottom: 1.5 },
            },
          },
          y1: yAxis(-6.5, 6.5, 144, CHI_LABEL_TICKS, 'χ', { family: FAMILY, size: 22, style: 'italic', lineHeight: 1 }),
          y2: yAxis(0.263, 1.335, 429, FLUX_LABEL_TICKS, 'Normalized flux', { family: FAMILY, size: 20, weight: 'bold', lineHeight: 1 }),
          y3: yAxis(-6.5, 6.5, 144, CHI_LABEL_TICKS, 'χ', { family: FAMILY, size: 22, style: 'italic', lineHeight: 1 }),
          y4: yAxis(0.275, 1.335, 428, FLUX_LABEL_TICKS, 'Normalized flux', { family: FAMILY, size: 20, weight: 'bold', lineHeight: 1 }),
        } as any,
      },
      plugins: [framePlugin],
    } as any);
    return () => chart.destroy();
  }, []);
  return (
    <div
      style={{
        position: 'absolute', left: 0, top: 0, width: 1443, height: 1200,
        transformOrigin: '0 0', transform: 'translate(1200px, 0px) rotate(90deg)', background: '#ffffff',
      }}
    >
      <canvas ref={ref} width={1443} height={1200} style={{ display: 'block', width: 1443, height: 1200 }} />
    </div>
  );
}
